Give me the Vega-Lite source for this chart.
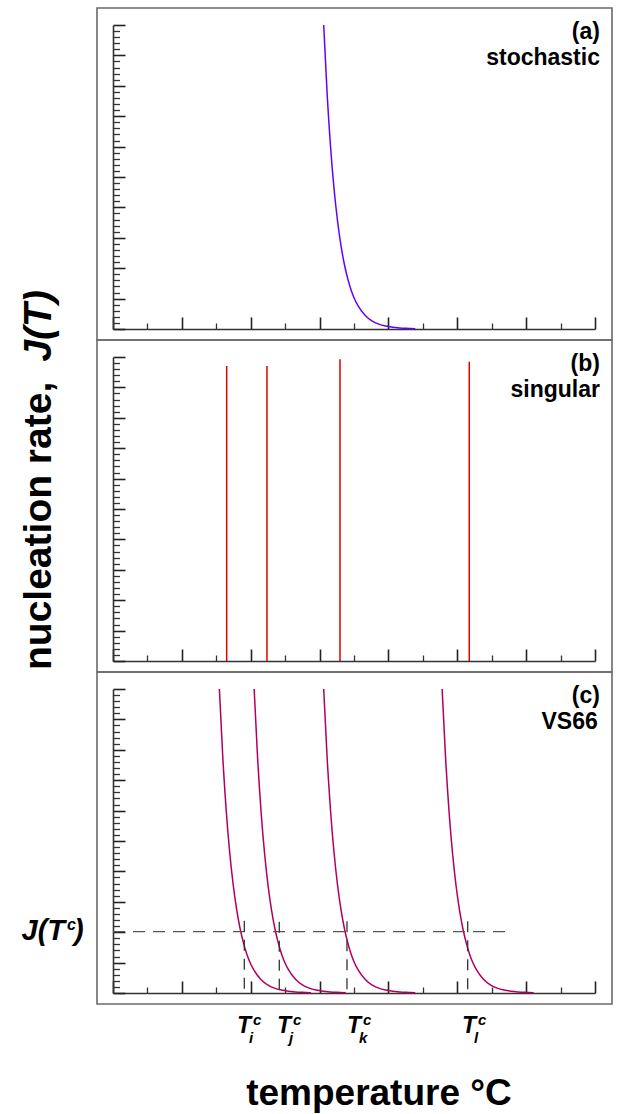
{
  "$schema": "https://vega.github.io/schema/vega-lite/v6.json",
  "padding": {"left": 19, "top": 7, "right": 5, "bottom": 2},
  "bounds": "flush",
  "spacing": 0,
  "config": {"view": {"stroke": "#6a6a6a", "strokeWidth": 1.6}, "font": "Liberation Sans"},
  "datasets": {
    "stoch": [
      {"x": 3.06, "y": 10}, {"x": 3.11, "y": 7.73}, {"x": 3.16, "y": 5.98}, {"x": 3.21, "y": 4.62}, {"x": 3.26, "y": 3.57},
      {"x": 3.31, "y": 2.76}, {"x": 3.36, "y": 2.13}, {"x": 3.41, "y": 1.65}, {"x": 3.46, "y": 1.27}, {"x": 3.51, "y": 0.98},
      {"x": 3.56, "y": 0.76}, {"x": 3.66, "y": 0.455}, {"x": 3.76, "y": 0.27}, {"x": 3.86, "y": 0.16}, {"x": 3.96, "y": 0.097},
      {"x": 4.06, "y": 0.058}, {"x": 4.16, "y": 0.035}, {"x": 4.26, "y": 0.021}, {"x": 4.39, "y": 0.011}
    ],
    "singular": [
      {"x": 1.651, "top": 9.70}, {"x": 2.236, "top": 9.70}, {"x": 3.297, "top": 9.93}, {"x": 5.174, "top": 9.84}
    ],
    "vs66": [
      {"curve": "i", "x": 1.545, "y": 10}, {"curve": "i", "x": 1.595, "y": 7.73}, {"curve": "i", "x": 1.645, "y": 5.98}, {"curve": "i", "x": 1.695, "y": 4.62}, {"curve": "i", "x": 1.745, "y": 3.57},
      {"curve": "i", "x": 1.795, "y": 2.76}, {"curve": "i", "x": 1.845, "y": 2.13}, {"curve": "i", "x": 1.895, "y": 1.65}, {"curve": "i", "x": 1.945, "y": 1.27}, {"curve": "i", "x": 1.995, "y": 0.98},
      {"curve": "i", "x": 2.045, "y": 0.76}, {"curve": "i", "x": 2.145, "y": 0.455}, {"curve": "i", "x": 2.245, "y": 0.27}, {"curve": "i", "x": 2.345, "y": 0.16}, {"curve": "i", "x": 2.445, "y": 0.097},
      {"curve": "i", "x": 2.545, "y": 0.058}, {"curve": "i", "x": 2.645, "y": 0.035}, {"curve": "i", "x": 2.745, "y": 0.021}, {"curve": "i", "x": 2.875, "y": 0.011},
      {"curve": "j", "x": 2.05, "y": 10}, {"curve": "j", "x": 2.10, "y": 7.73}, {"curve": "j", "x": 2.15, "y": 5.98}, {"curve": "j", "x": 2.20, "y": 4.62}, {"curve": "j", "x": 2.25, "y": 3.57},
      {"curve": "j", "x": 2.30, "y": 2.76}, {"curve": "j", "x": 2.35, "y": 2.13}, {"curve": "j", "x": 2.40, "y": 1.65}, {"curve": "j", "x": 2.45, "y": 1.27}, {"curve": "j", "x": 2.50, "y": 0.98},
      {"curve": "j", "x": 2.55, "y": 0.76}, {"curve": "j", "x": 2.65, "y": 0.455}, {"curve": "j", "x": 2.75, "y": 0.27}, {"curve": "j", "x": 2.85, "y": 0.16}, {"curve": "j", "x": 2.95, "y": 0.097},
      {"curve": "j", "x": 3.05, "y": 0.058}, {"curve": "j", "x": 3.15, "y": 0.035}, {"curve": "j", "x": 3.25, "y": 0.021}, {"curve": "j", "x": 3.38, "y": 0.011},
      {"curve": "k", "x": 3.06, "y": 10}, {"curve": "k", "x": 3.11, "y": 7.73}, {"curve": "k", "x": 3.16, "y": 5.98}, {"curve": "k", "x": 3.21, "y": 4.62}, {"curve": "k", "x": 3.26, "y": 3.57},
      {"curve": "k", "x": 3.31, "y": 2.76}, {"curve": "k", "x": 3.36, "y": 2.13}, {"curve": "k", "x": 3.41, "y": 1.65}, {"curve": "k", "x": 3.46, "y": 1.27}, {"curve": "k", "x": 3.51, "y": 0.98},
      {"curve": "k", "x": 3.56, "y": 0.76}, {"curve": "k", "x": 3.66, "y": 0.455}, {"curve": "k", "x": 3.76, "y": 0.27}, {"curve": "k", "x": 3.86, "y": 0.16}, {"curve": "k", "x": 3.96, "y": 0.097},
      {"curve": "k", "x": 4.06, "y": 0.058}, {"curve": "k", "x": 4.16, "y": 0.035}, {"curve": "k", "x": 4.26, "y": 0.021}, {"curve": "k", "x": 4.39, "y": 0.011},
      {"curve": "l", "x": 4.78, "y": 10}, {"curve": "l", "x": 4.83, "y": 7.73}, {"curve": "l", "x": 4.88, "y": 5.98}, {"curve": "l", "x": 4.93, "y": 4.62}, {"curve": "l", "x": 4.98, "y": 3.57},
      {"curve": "l", "x": 5.03, "y": 2.76}, {"curve": "l", "x": 5.08, "y": 2.13}, {"curve": "l", "x": 5.13, "y": 1.65}, {"curve": "l", "x": 5.18, "y": 1.27}, {"curve": "l", "x": 5.23, "y": 0.98},
      {"curve": "l", "x": 5.28, "y": 0.76}, {"curve": "l", "x": 5.38, "y": 0.455}, {"curve": "l", "x": 5.48, "y": 0.27}, {"curve": "l", "x": 5.58, "y": 0.16}, {"curve": "l", "x": 5.68, "y": 0.097},
      {"curve": "l", "x": 5.78, "y": 0.058}, {"curve": "l", "x": 5.88, "y": 0.035}, {"curve": "l", "x": 5.98, "y": 0.021}, {"curve": "l", "x": 6.11, "y": 0.011}
    ],
    "cross": [
      {"x": 1.907, "lo": 0.08, "hi": 2.38, "lx": 1.903, "s": "i"},
      {"x": 2.415, "lo": 0.08, "hi": 2.34, "lx": 2.484, "s": "j"},
      {"x": 3.398, "lo": 0.05, "hi": 2.36, "lx": 3.500, "s": "k"},
      {"x": 5.151, "lo": 0.05, "hi": 2.36, "lx": 5.170, "s": "l"}
    ],
    "level": [{"x1": 0, "x2": 5.774, "y": 2.02}]
  },
  "vconcat": [
    {
      "width": 515, "height": 332,
      "resolve": {"axis": {"x": "independent", "y": "independent"}},
      "layer": [
        {
          "data": {"name": "stoch"},
          "mark": {"type": "point", "opacity": 0},
          "encoding": {
            "x": {"field": "x", "type": "quantitative", "scale": {"domain": [0, 7], "range": [16, 498], "nice": false, "zero": false},
                  "axis": {"orient": "bottom", "offset": -11, "values": [0.5, 1.5, 2.5, 3.5, 4.5, 5.5, 6.5], "tickSize": -6, "tickWidth": 1.3, "tickColor": "#333", "domain": false, "labels": false, "grid": false, "title": null}},
            "y": {"field": "y", "type": "quantitative", "scale": {"domain": [0, 10], "range": [321, 17], "nice": false, "zero": false},
                  "axis": {"orient": "left", "offset": -16, "values": [0.2,0.4,0.6,0.8,1.2,1.4,1.6,1.8,2.2,2.4,2.6,2.8,3.2,3.4,3.6,3.8,4.2,4.4,4.6,4.8,5.2,5.4,5.6,5.8,6.2,6.4,6.6,6.8,7.2,7.4,7.6,7.8,8.2,8.4,8.6,8.8,9.2,9.4,9.6,9.8], "tickSize": -6.5, "tickWidth": 1.3, "tickColor": "#333", "domain": false, "labels": false, "grid": false, "title": null}}
          }
        },
        {
          "data": {"name": "stoch"},
          "mark": {"type": "line", "color": "#6200ff", "strokeWidth": 1.5, "interpolate": "monotone"},
          "encoding": {
            "x": {"field": "x", "type": "quantitative", "scale": {"domain": [0, 7], "range": [16, 498], "nice": false, "zero": false},
                  "axis": {"orient": "bottom", "offset": -11, "values": [0, 1, 2, 3, 4, 5, 6, 7], "tickSize": -12, "tickWidth": 1.6, "tickColor": "#222", "domain": true, "domainColor": "#333", "domainWidth": 1.6, "labels": false, "grid": false, "title": null}},
            "y": {"field": "y", "type": "quantitative", "scale": {"domain": [0, 10], "range": [321, 17], "nice": false, "zero": false},
                  "axis": {"orient": "left", "offset": -16, "values": [0,1,2,3,4,5,6,7,8,9,10], "tickSize": -12, "tickWidth": 1.6, "tickColor": "#222", "domain": true, "domainColor": "#333", "domainWidth": 1.6, "labels": false, "grid": false, "title": null}}
          }
        },
        {
          "data": {"values": [{}]},
          "mark": {"type": "text", "text": "(a)", "align": "right", "baseline": "alphabetic", "font": "Liberation Sans", "fontSize": 23, "fontWeight": "bold"},
          "encoding": {
            "x": {"datum": 7.072, "type": "quantitative", "scale": {"domain": [0, 7], "range": [16, 498], "nice": false, "zero": false}, "axis": null},
            "y": {"datum": 9.53, "type": "quantitative", "scale": {"domain": [0, 10], "range": [321, 17], "nice": false, "zero": false}, "axis": null}
          }
        },
        {
          "data": {"values": [{}]},
          "mark": {"type": "text", "text": "stochastic", "align": "right", "baseline": "alphabetic", "font": "Liberation Sans", "fontSize": 23, "fontWeight": "bold"},
          "encoding": {
            "x": {"datum": 7.072, "type": "quantitative", "scale": {"domain": [0, 7], "range": [16, 498], "nice": false, "zero": false}, "axis": null},
            "y": {"datum": 8.68, "type": "quantitative", "scale": {"domain": [0, 10], "range": [321, 17], "nice": false, "zero": false}, "axis": null}
          }
        }
      ]
    },
    {
      "width": 515, "height": 332,
      "resolve": {"axis": {"x": "independent", "y": "independent"}},
      "layer": [
        {
          "data": {"name": "singular"},
          "mark": {"type": "point", "opacity": 0},
          "encoding": {
            "x": {"field": "x", "type": "quantitative", "scale": {"domain": [0, 7], "range": [16, 498], "nice": false, "zero": false},
                  "axis": {"orient": "bottom", "offset": -11, "values": [0.5, 1.5, 2.5, 3.5, 4.5, 5.5, 6.5], "tickSize": -6, "tickWidth": 1.3, "tickColor": "#333", "domain": false, "labels": false, "grid": false, "title": null}},
            "y": {"field": "top", "type": "quantitative", "scale": {"domain": [0, 10], "range": [321, 17], "nice": false, "zero": false},
                  "axis": {"orient": "left", "offset": -16, "values": [0.2,0.4,0.6,0.8,1.2,1.4,1.6,1.8,2.2,2.4,2.6,2.8,3.2,3.4,3.6,3.8,4.2,4.4,4.6,4.8,5.2,5.4,5.6,5.8,6.2,6.4,6.6,6.8,7.2,7.4,7.6,7.8,8.2,8.4,8.6,8.8,9.2,9.4,9.6,9.8], "tickSize": -6.5, "tickWidth": 1.3, "tickColor": "#333", "domain": false, "labels": false, "grid": false, "title": null}}
          }
        },
        {
          "data": {"name": "singular"},
          "mark": {"type": "rule", "color": "#e10000", "strokeWidth": 1.5},
          "encoding": {
            "x": {"field": "x", "type": "quantitative", "scale": {"domain": [0, 7], "range": [16, 498], "nice": false, "zero": false},
                  "axis": {"orient": "bottom", "offset": -11, "values": [0, 1, 2, 3, 4, 5, 6, 7], "tickSize": -12, "tickWidth": 1.6, "tickColor": "#222", "domain": true, "domainColor": "#333", "domainWidth": 1.6, "labels": false, "grid": false, "title": null}},
            "y": {"field": "top", "type": "quantitative", "scale": {"domain": [0, 10], "range": [321, 17], "nice": false, "zero": false},
                  "axis": {"orient": "left", "offset": -16, "values": [0,1,2,3,4,5,6,7,8,9,10], "tickSize": -12, "tickWidth": 1.6, "tickColor": "#222", "domain": true, "domainColor": "#333", "domainWidth": 1.6, "labels": false, "grid": false, "title": null}},
            "y2": {"datum": 0}
          }
        },
        {
          "data": {"values": [{}]},
          "mark": {"type": "text", "text": "(b)", "align": "right", "baseline": "alphabetic", "font": "Liberation Sans", "fontSize": 23, "fontWeight": "bold"},
          "encoding": {
            "x": {"datum": 7.072, "type": "quantitative", "scale": {"domain": [0, 7], "range": [16, 498], "nice": false, "zero": false}, "axis": null},
            "y": {"datum": 9.53, "type": "quantitative", "scale": {"domain": [0, 10], "range": [321, 17], "nice": false, "zero": false}, "axis": null}
          }
        },
        {
          "data": {"values": [{}]},
          "mark": {"type": "text", "text": "singular", "align": "right", "baseline": "alphabetic", "font": "Liberation Sans", "fontSize": 23, "fontWeight": "bold"},
          "encoding": {
            "x": {"datum": 7.072, "type": "quantitative", "scale": {"domain": [0, 7], "range": [16, 498], "nice": false, "zero": false}, "axis": null},
            "y": {"datum": 8.68, "type": "quantitative", "scale": {"domain": [0, 10], "range": [321, 17], "nice": false, "zero": false}, "axis": null}
          }
        },
        {
          "data": {"values": [{}]},
          "mark": {"type": "text", "text": "nucleation rate,", "angle": 270, "align": "left", "baseline": "alphabetic", "font": "Liberation Sans", "fontSize": 39, "fontWeight": "bold"},
          "encoding": {
            "x": {"datum": -0.9, "type": "quantitative", "scale": {"domain": [0, 7], "range": [16, 498], "nice": false, "zero": false}, "axis": null},
            "y": {"datum": -0.296, "type": "quantitative", "scale": {"domain": [0, 10], "range": [321, 17], "nice": false, "zero": false}, "axis": null}
          }
        },
        {
          "data": {"values": [{}]},
          "mark": {"type": "text", "text": "J(T)", "angle": 270, "align": "right", "baseline": "alphabetic", "font": "Liberation Sans", "fontSize": 39, "fontWeight": "bold", "fontStyle": "italic"},
          "encoding": {
            "x": {"datum": -0.9, "type": "quantitative", "scale": {"domain": [0, 7], "range": [16, 498], "nice": false, "zero": false}, "axis": null},
            "y": {"datum": 12.2, "type": "quantitative", "scale": {"domain": [0, 10], "range": [321, 17], "nice": false, "zero": false}, "axis": null}
          }
        }
      ]
    },
    {
      "width": 515, "height": 332,
      "resolve": {"axis": {"x": "independent", "y": "independent"}},
      "layer": [
        {
          "data": {"name": "vs66"},
          "mark": {"type": "point", "opacity": 0},
          "encoding": {
            "x": {"field": "x", "type": "quantitative", "scale": {"domain": [0, 7], "range": [16, 498], "nice": false, "zero": false},
                  "axis": {"orient": "bottom", "offset": -11, "values": [0.5, 1.5, 2.5, 3.5, 4.5, 5.5, 6.5], "tickSize": -6, "tickWidth": 1.3, "tickColor": "#333", "domain": false, "labels": false, "grid": false, "title": null}},
            "y": {"field": "y", "type": "quantitative", "scale": {"domain": [0, 10], "range": [321, 17], "nice": false, "zero": false},
                  "axis": {"orient": "left", "offset": -16, "values": [0.2,0.4,0.6,0.8,1.2,1.4,1.6,1.8,2.2,2.4,2.6,2.8,3.2,3.4,3.6,3.8,4.2,4.4,4.6,4.8,5.2,5.4,5.6,5.8,6.2,6.4,6.6,6.8,7.2,7.4,7.6,7.8,8.2,8.4,8.6,8.8,9.2,9.4,9.6,9.8], "tickSize": -6.5, "tickWidth": 1.3, "tickColor": "#333", "domain": false, "labels": false, "grid": false, "title": null}}
          }
        },
        {
          "data": {"name": "vs66"},
          "mark": {"type": "line", "color": "#b0005c", "strokeWidth": 1.5, "interpolate": "monotone"},
          "encoding": {
            "x": {"field": "x", "type": "quantitative", "scale": {"domain": [0, 7], "range": [16, 498], "nice": false, "zero": false},
                  "axis": {"orient": "bottom", "offset": -11, "values": [0, 1, 2, 3, 4, 5, 6, 7], "tickSize": -12, "tickWidth": 1.6, "tickColor": "#222", "domain": true, "domainColor": "#333", "domainWidth": 1.6, "labels": false, "grid": false, "title": null}},
            "y": {"field": "y", "type": "quantitative", "scale": {"domain": [0, 10], "range": [321, 17], "nice": false, "zero": false},
                  "axis": {"orient": "left", "offset": -16, "values": [0,1,2,3,4,5,6,7,8,9,10], "tickSize": -12, "tickWidth": 1.6, "tickColor": "#222", "domain": true, "domainColor": "#333", "domainWidth": 1.6, "labels": false, "grid": false, "title": null}},
            "detail": {"field": "curve"}
          }
        },
        {
          "data": {"name": "level"},
          "mark": {"type": "rule", "color": "#555", "strokeWidth": 1.3, "strokeDash": [12, 8]},
          "encoding": {
            "x": {"field": "x1", "type": "quantitative", "scale": {"domain": [0, 7], "range": [16, 498], "nice": false, "zero": false}, "axis": null},
            "x2": {"field": "x2"},
            "y": {"field": "y", "type": "quantitative", "scale": {"domain": [0, 10], "range": [321, 17], "nice": false, "zero": false}, "axis": null}
          }
        },
        {
          "data": {"name": "cross"},
          "mark": {"type": "rule", "color": "#333", "strokeWidth": 1.3, "strokeDash": [11, 8]},
          "encoding": {
            "x": {"field": "x", "type": "quantitative", "scale": {"domain": [0, 7], "range": [16, 498], "nice": false, "zero": false}, "axis": null},
            "y": {"field": "hi", "type": "quantitative", "scale": {"domain": [0, 10], "range": [321, 17], "nice": false, "zero": false}, "axis": null},
            "y2": {"field": "lo"}
          }
        },
        {
          "data": {"values": [{}]},
          "mark": {"type": "text", "text": "(c)", "align": "right", "baseline": "alphabetic", "font": "Liberation Sans", "fontSize": 23, "fontWeight": "bold"},
          "encoding": {
            "x": {"datum": 7.072, "type": "quantitative", "scale": {"domain": [0, 7], "range": [16, 498], "nice": false, "zero": false}, "axis": null},
            "y": {"datum": 9.53, "type": "quantitative", "scale": {"domain": [0, 10], "range": [321, 17], "nice": false, "zero": false}, "axis": null}
          }
        },
        {
          "data": {"values": [{}]},
          "mark": {"type": "text", "text": "VS66", "align": "right", "baseline": "alphabetic", "font": "Liberation Sans", "fontSize": 23, "fontWeight": "bold"},
          "encoding": {
            "x": {"datum": 7.04, "type": "quantitative", "scale": {"domain": [0, 7], "range": [16, 498], "nice": false, "zero": false}, "axis": null},
            "y": {"datum": 8.68, "type": "quantitative", "scale": {"domain": [0, 10], "range": [321, 17], "nice": false, "zero": false}, "axis": null}
          }
        },
        {
          "data": {"values": [{}]},
          "mark": {"type": "text", "text": "J(T", "align": "right", "baseline": "alphabetic", "font": "Liberation Sans", "fontSize": 29, "fontWeight": "bold", "fontStyle": "italic"},
          "encoding": {
            "x": {"datum": -0.697, "type": "quantitative", "scale": {"domain": [0, 7], "range": [16, 498], "nice": false, "zero": false}, "axis": null},
            "y": {"datum": 1.743, "type": "quantitative", "scale": {"domain": [0, 10], "range": [321, 17], "nice": false, "zero": false}, "axis": null}
          }
        },
        {
          "data": {"values": [{}]},
          "mark": {"type": "text", "text": "c", "align": "left", "baseline": "alphabetic", "dx": 2, "dy": -10, "font": "Liberation Sans", "fontSize": 16, "fontWeight": "bold", "fontStyle": "italic"},
          "encoding": {
            "x": {"datum": -0.697, "type": "quantitative", "scale": {"domain": [0, 7], "range": [16, 498], "nice": false, "zero": false}, "axis": null},
            "y": {"datum": 1.743, "type": "quantitative", "scale": {"domain": [0, 10], "range": [321, 17], "nice": false, "zero": false}, "axis": null}
          }
        },
        {
          "data": {"values": [{}]},
          "mark": {"type": "text", "text": ")", "align": "left", "baseline": "alphabetic", "dx": 9, "font": "Liberation Sans", "fontSize": 29, "fontWeight": "bold", "fontStyle": "italic"},
          "encoding": {
            "x": {"datum": -0.697, "type": "quantitative", "scale": {"domain": [0, 7], "range": [16, 498], "nice": false, "zero": false}, "axis": null},
            "y": {"datum": 1.743, "type": "quantitative", "scale": {"domain": [0, 10], "range": [321, 17], "nice": false, "zero": false}, "axis": null}
          }
        },
        {
          "data": {"name": "cross"},
          "mark": {"type": "text", "text": "T", "align": "center", "baseline": "alphabetic", "font": "Liberation Sans", "fontSize": 23, "fontWeight": "bold", "fontStyle": "italic"},
          "encoding": {
            "x": {"field": "lx", "type": "quantitative", "scale": {"domain": [0, 7], "range": [16, 498], "nice": false, "zero": false}, "axis": null},
            "y": {"datum": -1.316, "type": "quantitative", "scale": {"domain": [0, 10], "range": [321, 17], "nice": false, "zero": false}, "axis": null}
          }
        },
        {
          "data": {"name": "cross"},
          "mark": {"type": "text", "text": "c", "align": "left", "baseline": "alphabetic", "dx": 9, "dy": -8, "font": "Liberation Sans", "fontSize": 15, "fontWeight": "bold", "fontStyle": "italic"},
          "encoding": {
            "x": {"field": "lx", "type": "quantitative", "scale": {"domain": [0, 7], "range": [16, 498], "nice": false, "zero": false}, "axis": null},
            "y": {"datum": -1.316, "type": "quantitative", "scale": {"domain": [0, 10], "range": [321, 17], "nice": false, "zero": false}, "axis": null}
          }
        },
        {
          "data": {"name": "cross"},
          "mark": {"type": "text", "align": "left", "baseline": "alphabetic", "dx": 5, "dy": 10, "font": "Liberation Sans", "fontSize": 15, "fontWeight": "bold", "fontStyle": "italic"},
          "encoding": {
            "x": {"field": "lx", "type": "quantitative", "scale": {"domain": [0, 7], "range": [16, 498], "nice": false, "zero": false}, "axis": null},
            "y": {"datum": -1.316, "type": "quantitative", "scale": {"domain": [0, 10], "range": [321, 17], "nice": false, "zero": false}, "axis": null},
            "text": {"field": "s"}
          }
        },
        {
          "data": {"values": [{}]},
          "mark": {"type": "text", "text": "temperature °C", "align": "center", "baseline": "alphabetic", "font": "Liberation Sans", "fontSize": 37, "fontWeight": "bold"},
          "encoding": {
            "x": {"datum": 3.863, "type": "quantitative", "scale": {"domain": [0, 7], "range": [16, 498], "nice": false, "zero": false}, "axis": null},
            "y": {"datum": -3.684, "type": "quantitative", "scale": {"domain": [0, 10], "range": [321, 17], "nice": false, "zero": false}, "axis": null}
          }
        }
      ]
    }
  ]
}
